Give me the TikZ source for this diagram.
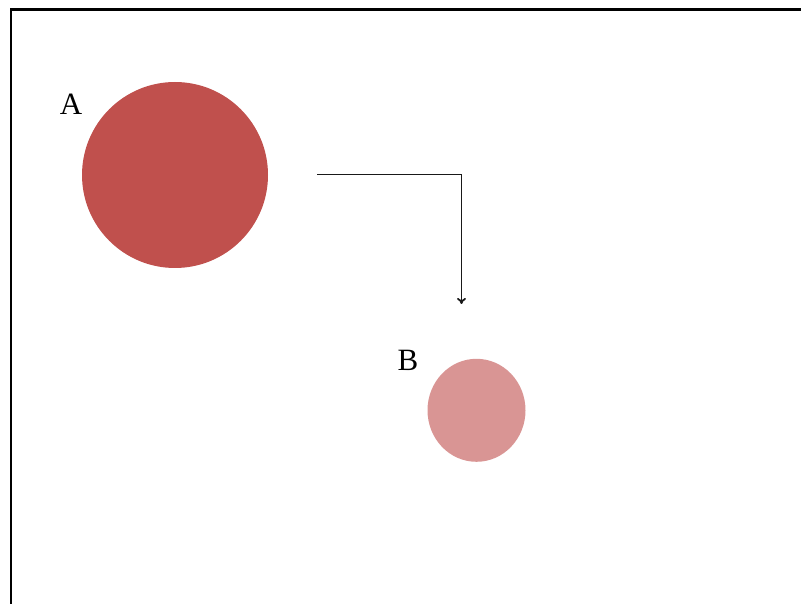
\documentclass[tikz,border=0pt]{standalone}
\usepackage{fontspec}
\setmainfont{Liberation Serif}
\usetikzlibrary{arrows.meta}
\definecolor{darkred}{HTML}{C0504D}
\definecolor{lightred}{HTML}{D99594}
\tikzset{
  lbl/.style={font=\fontsize{31}{36}\selectfont, inner sep=0pt},
  frameline/.style={line width=2.4pt, black},
  conn/.style={line width=1.8pt, draw=black!90, -{To[length=6pt,width=9pt]}}
}
\begin{document}
\begin{tikzpicture}[x=1pt,y=-1pt]
\useasboundingbox (0,0) rectangle (801,604);
\draw[frameline] (11,606) -- (11,9.5) -- (803,9.5);
\fill[darkred] (175,175) circle[radius=93] coordinate (A);
\node[lbl] (la) at (71,104) {A};
\fill[lightred] (476.5,410.3) ellipse[x radius=49, y radius=51.5] coordinate (B);
\node[lbl] (lb) at (408,360) {B};
\coordinate (s) at (317,174.5);
\coordinate (e) at (461.5,304);
\draw[conn] (s) -| (e);
\end{tikzpicture}
\end{document}
